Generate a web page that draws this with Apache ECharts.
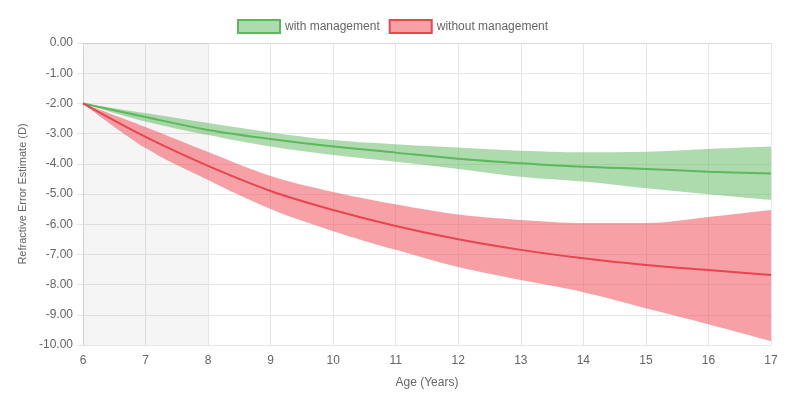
<!DOCTYPE html>
<html>
<head>
<meta charset="utf-8">
<script src="https://cdn.jsdelivr.net/npm/echarts@6/dist/echarts.min.js"></script>
<style>html,body{margin:0;padding:0;background:#fff}#c{width:800px;height:409px}</style>
</head>
<body>
<div id="c"></div>
<script>
var ages = ['6','7','8','9','10','11','12','13','14','15','16','17'];
var withMean = [-2.0, -2.45, -2.88, -3.18, -3.43, -3.63, -3.83, -3.98, -4.10, -4.17, -4.26, -4.32];
var withUpper = [-2.0, -2.32, -2.65, -2.96, -3.21, -3.35, -3.46, -3.57, -3.62, -3.60, -3.51, -3.43];
var withLower = [-2.0, -2.60, -3.05, -3.43, -3.71, -3.93, -4.17, -4.43, -4.59, -4.81, -5.01, -5.20];
var withoutMean = [-2.0, -3.11, -4.07, -4.90, -5.53, -6.06, -6.50, -6.85, -7.13, -7.35, -7.52, -7.68];
var withoutUpper = [-2.0, -2.78, -3.61, -4.40, -4.93, -5.34, -5.68, -5.86, -5.96, -5.96, -5.76, -5.53];
var withoutLower = [-2.0, -3.48, -4.54, -5.50, -6.23, -6.85, -7.42, -7.85, -8.25, -8.78, -9.31, -9.87];
var yTicks = [0, -1, -2, -3, -4, -5, -6, -7, -8, -9, -10];

function diff(a, b) { return a.map(function (v, i) { return +(v - b[i]).toFixed(3); }); }

var greenLine = '#5cb85c', greenFill = 'rgba(92,184,92,0.5)';
var redLine = '#e8454f', redFill = 'rgba(240,83,95,0.55)';

var chart = echarts.init(document.getElementById('c'), null, {renderer: 'canvas'});
chart.setOption({
  animation: false,
  textStyle: {fontFamily: 'Liberation Sans, Arial, sans-serif'},
  legend: {
    top: 14, left: 232, itemWidth: 42, itemHeight: 13, itemGap: 9, icon: 'rect',
    textStyle: {color: '#666', fontSize: 12},
    data: [
      {name: 'with management', itemStyle: {color: greenFill, borderColor: greenLine, borderWidth: 2}},
      {name: 'without management', itemStyle: {color: redFill, borderColor: redLine, borderWidth: 2}}
    ]
  },
  grid: {left: 83, right: 29, top: 43, bottom: 64, containLabel: false},
  xAxis: {
    type: 'category', data: ages, boundaryGap: false,
    name: 'Age (Years)', nameLocation: 'middle', nameGap: 32,
    nameTextStyle: {color: '#666', fontSize: 12},
    axisLine: {lineStyle: {color: '#d9d9d9'}},
    axisTick: {show: true, length: 6, lineStyle: {color: '#e6e6e6'}},
    axisLabel: {color: '#666', fontSize: 12, margin: 10},
    splitLine: {show: true, lineStyle: {color: '#e6e6e6'}}
  },
  yAxis: {
    type: 'value', min: yTicks[yTicks.length - 1], max: yTicks[0], interval: 1,
    name: 'Refractive Error Estimate (D)', nameLocation: 'middle', nameGap: 53, nameRotate: 90,
    nameTextStyle: {color: '#666', fontSize: 11},
    axisLine: {show: true, lineStyle: {color: '#d9d9d9'}},
    axisTick: {show: true, length: 6, lineStyle: {color: '#e6e6e6'}},
    axisLabel: {color: '#666', fontSize: 12, margin: 10, formatter: function (v) { return v.toFixed(2); }},
    splitLine: {show: true, lineStyle: {color: '#e6e6e6'}}
  },
  series: [
    {
      name: 'shade', type: 'line', data: [], silent: true, z: 0,
      markArea: {silent: true, itemStyle: {color: 'rgba(0,0,0,0.04)'}, data: [[{xAxis: '6'}, {xAxis: '8'}]]}
    },
    {
      name: 'with lower', type: 'line', stack: 'g', stackStrategy: 'all', data: withLower, smooth: 0.35,
      symbol: 'none', lineStyle: {width: 0, opacity: 0}, silent: true
    },
    {
      name: 'with band', type: 'line', stack: 'g', stackStrategy: 'all', data: diff(withUpper, withLower), smooth: 0.35,
      symbol: 'none', lineStyle: {width: 0, opacity: 0}, areaStyle: {color: greenFill, opacity: 1}, silent: true
    },
    {
      name: 'without lower', type: 'line', stack: 'r', stackStrategy: 'all', data: withoutLower, smooth: 0.35,
      symbol: 'none', lineStyle: {width: 0, opacity: 0}, silent: true
    },
    {
      name: 'without band', type: 'line', stack: 'r', stackStrategy: 'all', data: diff(withoutUpper, withoutLower), smooth: 0.35,
      symbol: 'none', lineStyle: {width: 0, opacity: 0}, areaStyle: {color: redFill, opacity: 1}, silent: true
    },
    {
      name: 'with management', type: 'line', data: withMean, smooth: 0.35, symbol: 'none',
      itemStyle: {color: greenFill, borderColor: greenLine}, lineStyle: {color: greenLine, width: 2}, z: 5
    },
    {
      name: 'without management', type: 'line', data: withoutMean, smooth: 0.35, symbol: 'none',
      itemStyle: {color: redFill, borderColor: redLine}, lineStyle: {color: redLine, width: 2}, z: 5
    }
  ]
});
</script>
</body>
</html>
